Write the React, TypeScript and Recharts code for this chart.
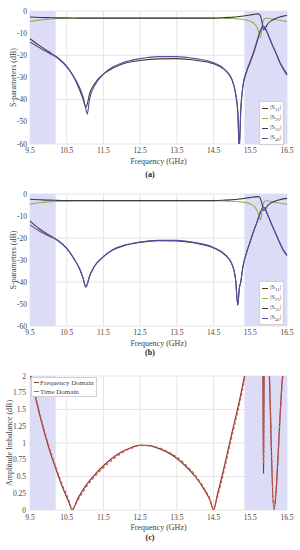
import { LineChart, Line, XAxis, YAxis, CartesianGrid, ReferenceArea, Legend } from 'recharts';

const FONT = "'Liberation Serif', 'DejaVu Serif', serif";

// frequency points (GHz) for plots (a) and (b)
const freqS = [
  9.5, 9.75, 10.0, 10.25, 10.5, 10.7, 10.85, 10.95, 11.02, 11.06, 11.12, 11.25, 11.5, 11.75,
  12.0, 12.5, 13.0, 13.5, 14.0, 14.5, 14.8, 15.0, 15.1, 15.16, 15.2, 15.24, 15.3, 15.4, 15.5,
  15.6, 15.7, 15.75, 15.78, 15.82, 15.86, 15.9, 15.95, 16.0, 16.1, 16.2, 16.3, 16.4, 16.5,
];

// (a)
const s11A = [
  -12.5, -15.5, -18.3, -21, -25, -30, -35.5, -40, -43.5, -42, -37.5, -33, -28.5, -25.8,
  -24, -22.3, -21.6, -21.5, -22.2, -23.8, -26.5, -31, -37.5, -46, -62, -45, -34, -27.5, -23,
  -18.5, -13, -10.5, -9, -7.6, -7, -7.6, -9.3, -11.3, -15.3, -19, -23, -26, -28.5,
];
const s21A = [
  -4.7, -4.1, -3.7, -3.4, -3.3, -3.25, -3.2, -3.2, -3.2, -3.2, -3.2, -3.2, -3.2, -3.2,
  -3.2, -3.2, -3.2, -3.2, -3.2, -3.2, -3.3, -3.4, -3.5, -3.6, -3.6, -3.7, -3.8, -4.1, -4.6,
  -5.6, -8, -10.8, -11.8, -7, -4.2, -3.4, -3.3, -3.4, -3.6, -3.9, -4.2, -4.5, -4.7,
];
const s31A = [
  -2.7, -2.9, -3.0, -3.1, -3.1, -3.15, -3.2, -3.2, -3.2, -3.2, -3.2, -3.2, -3.2, -3.2,
  -3.2, -3.2, -3.2, -3.2, -3.2, -3.2, -3.0, -2.8, -2.7, -2.6, -2.5, -2.4, -2.3, -2.0, -1.8,
  -1.5, -1.3, -1.5, -2.3, -5, -8.5, -8, -6.5, -5.3, -4.2, -3.3, -2.7, -2.3, -2.0,
];
const s41A = [
  -14, -16.5, -18.8, -21.2, -25.2, -29.8, -34.5, -39, -44, -46.5, -40, -34, -28.5, -25.3,
  -23.5, -21.5, -20.6, -20.6, -21.5, -23.3, -26.3, -30.8, -37, -45, -62, -45, -33.5, -27, -22.5,
  -18, -12.5, -10, -8.6, -7.3, -6.8, -7.5, -9.2, -11.2, -15.2, -19, -23, -26.3, -29,
];

// (b)
const s11B = [
  -12.3, -15.8, -18.5, -21, -24.7, -29.5, -34, -38.5, -42.3, -41, -37.5, -33, -28.5, -25.5,
  -23.8, -22, -21.2, -21.3, -22.3, -24.5, -27.5, -32, -39, -50.5, -43, -40, -33, -26.5, -21.5,
  -16.5, -12, -9.5, -8.2, -6.8, -6, -6.5, -8.5, -10.5, -14.5, -18.3, -22, -25.5, -27.8,
];
const s21B = [
  -4.5, -4.0, -3.6, -3.3, -3.2, -3.1, -3.1, -3.1, -3.1, -3.1, -3.1, -3.1, -3.1, -3.1,
  -3.1, -3.1, -3.1, -3.1, -3.1, -3.1, -3.2, -3.3, -3.4, -3.5, -3.5, -3.6, -3.7, -4.0, -4.5,
  -5.5, -8, -10.5, -11.8, -7.5, -4.2, -3.2, -3.1, -3.2, -3.5, -3.8, -4.1, -4.4, -4.6,
];
const s31B = [
  -2.4, -2.6, -2.8, -2.9, -3.0, -3.0, -3.0, -3.0, -3.0, -3.0, -3.0, -3.0, -3.0, -3.0,
  -3.0, -3.0, -3.0, -3.0, -3.0, -3.0, -2.8, -2.6, -2.5, -2.4, -2.3, -2.2, -2.1, -1.8, -1.6,
  -1.4, -1.2, -1.4, -2.2, -4.5, -7.5, -7.2, -5.8, -4.8, -3.8, -3.1, -2.6, -2.2, -2.0,
];
const s41B = [
  -14, -16.8, -19, -21, -24.7, -29.5, -34, -38.5, -42.3, -41, -37.5, -33, -28.5, -25.3,
  -23.6, -21.8, -21, -21.1, -22.1, -24.3, -27.3, -31.8, -38.8, -50.5, -43, -40, -33, -26.5, -21.5,
  -16.5, -12, -9.5, -8.2, -6.8, -6, -6.5, -8.5, -10.5, -14.5, -18.3, -22, -25.7, -28,
];

// (c) amplitude imbalance
const freqC = [
  9.5, 9.75, 10.0, 10.2, 10.4, 10.55, 10.65, 10.8, 11.0, 11.25, 11.5, 11.75, 12.0, 12.25,
  12.5, 12.75, 13.0, 13.25, 13.5, 13.75, 14.0, 14.25, 14.4, 14.5, 14.6, 14.75, 15.0, 15.2,
  15.34, 15.5, 15.7, 15.84, 15.86, 15.88, 15.95, 16.02, 16.14, 16.38, 16.5,
];
const freqDomain = [
  2.05, 1.45, 0.95, 0.62, 0.32, 0.13, 0.0, 0.17, 0.35, 0.52, 0.66, 0.78, 0.87, 0.93,
  0.97, 0.96, 0.92, 0.86, 0.77, 0.65, 0.5, 0.3, 0.15, 0.0, 0.22, 0.55, 1.15, 1.62,
  2.0, 2.6, 3.2, 2.4, 0.55, 2.4, 3.0, 2.0, 0.0, 2.0, 2.5,
];
const timeDomain = [
  2.08, 1.48, 0.98, 0.65, 0.35, 0.16, 0.02, 0.14, 0.32, 0.49, 0.63, 0.75, 0.85, 0.92,
  0.96, 0.96, 0.93, 0.87, 0.79, 0.67, 0.52, 0.32, 0.17, 0.02, 0.18, 0.5, 1.1, 1.57,
  1.95, 2.6, 3.2, 2.5, 0.7, 2.5, 3.0, 2.05, 0.05, 1.95, 2.45,
];

const xTicks = [9.5, 10.5, 11.5, 12.5, 13.5, 14.5, 15.5, 16.5];
const dbTicks = [0, -10, -20, -30, -40, -50, -60];
const imbTicks = [0, 0.25, 0.5, 0.75, 1, 1.25, 1.5, 1.75, 2];
const sNames = ['11', '21', '31', '41'];
const sColors = ['#5a2f2c', '#8fb24a', '#343d48', '#4c52a8'];

const shade = '#dcdcf6';
const gridColor = '#e6e6e6';
const tickStyle = { fontSize: 7.5, fill: '#444', fontFamily: FONT };
const titleStyle = { fontSize: 8, fill: '#444', fontFamily: FONT, textAnchor: 'middle' as const };

function SLegend() {
  return (
    <div style={{ background: '#fff', border: '1px solid #d0d0d0', padding: '1px 2px', fontFamily: FONT, fontSize: 6.5, color: '#444' }}>
      {sNames.map((n, i) => (
        <div key={n} style={{ display: 'flex', alignItems: 'center', height: 10 }}>
          <span style={{ display: 'inline-block', width: 6, height: 0, borderTop: `1.3px solid ${sColors[i]}`, marginRight: 2 }} />
          <span>|S<sub style={{ fontSize: 5 }}>{n}</sub>|</span>
        </div>
      ))}
    </div>
  );
}

function CLegend() {
  return (
    <div style={{ background: '#fff', border: '1px solid #d0d0d0', padding: '0 2px', fontFamily: FONT, fontSize: 7, color: '#444' }}>
      <div style={{ display: 'flex', alignItems: 'center', height: 9 }}>
        <span style={{ display: 'inline-block', width: 5, borderTop: '1.3px solid #7b3f32', marginRight: 1 }} />
        <span>Frequency Domain</span>
      </div>
      <div style={{ display: 'flex', alignItems: 'center', height: 9 }}>
        <span style={{ display: 'inline-block', width: 5, borderTop: '1.3px dashed #d9534f', marginRight: 1 }} />
        <span>Time Domain</span>
      </div>
    </div>
  );
}

interface SChartProps {
  s11: number[];
  s21: number[];
  s31: number[];
  s41: number[];
  top: number;
  marginTop: number;
  height: number;
  legendTop: number;
}

function SParamChart({ s11, s21, s31, s41, top, marginTop, height, legendTop }: SChartProps) {
  const data = freqS.map((f, i) => ({ f, s11: s11[i], s21: s21[i], s31: s31[i], s41: s41[i] }));
  return (
    <div style={{ position: 'absolute', left: 0, top }}>
      <LineChart width={300} height={height} data={data} margin={{ top: marginTop, right: 13, bottom: 0, left: 0 }}>
        <ReferenceArea x1={9.5} x2={10.2} fill={shade} fillOpacity={1} stroke="none" />
        <ReferenceArea x1={15.34} x2={16.5} fill={shade} fillOpacity={1} stroke="none" />
        <CartesianGrid stroke={gridColor} />
        <XAxis
          type="number"
          dataKey="f"
          domain={[9.5, 16.5]}
          ticks={xTicks}
          height={24}
          tickLine={false}
          axisLine={false}
          tickSize={3}
          tickMargin={1}
          tick={tickStyle}
          label={{ value: 'Frequency (GHz)', position: 'insideBottom', offset: 4, style: titleStyle }}
        />
        <YAxis
          type="number"
          domain={[-60, 0]}
          ticks={dbTicks}
          allowDataOverflow
          width={30}
          tickLine={false}
          axisLine={false}
          tickSize={2}
          tickMargin={1}
          tick={tickStyle}
          label={{ value: 'S-parameters (dB)', angle: -90, position: 'insideLeft', offset: 13, style: titleStyle }}
        />
        {sNames.map((n, i) => (
          <Line
            key={n}
            type="monotone"
            dataKey={`s${n}`}
            stroke={sColors[i]}
            strokeWidth={1.1}
            dot={false}
            isAnimationActive={false}
          />
        ))}
        <Legend
          layout="horizontal"
          verticalAlign="middle"
          align="center"
          content={<SLegend />}
          wrapperStyle={{ left: 259, top: legendTop, width: 'auto' }}
        />
      </LineChart>
    </div>
  );
}

function ImbalanceChart() {
  const data = freqC.map((f, i) => ({ f, fd: freqDomain[i], td: timeDomain[i] }));
  return (
    <div style={{ position: 'absolute', left: 0, top: 360 }}>
      <LineChart width={300} height={172} data={data} margin={{ top: 16, right: 13, bottom: 0, left: 0 }}>
        <ReferenceArea x1={9.5} x2={10.2} fill={shade} fillOpacity={1} stroke="none" />
        <ReferenceArea x1={15.34} x2={16.5} fill={shade} fillOpacity={1} stroke="none" />
        <CartesianGrid stroke={gridColor} />
        <XAxis
          type="number"
          dataKey="f"
          domain={[9.5, 16.5]}
          ticks={xTicks}
          height={22}
          tickLine={false}
          axisLine={false}
          tickSize={2}
          tickMargin={3}
          tick={tickStyle}
          label={{ value: 'Frequency (GHz)', position: 'insideBottom', offset: 2, style: titleStyle }}
        />
        <YAxis
          type="number"
          domain={[0, 2]}
          ticks={imbTicks}
          allowDataOverflow
          width={30}
          tickLine={false}
          axisLine={false}
          tickSize={2}
          tickMargin={2}
          tick={tickStyle}
          label={{ value: 'Amplitude Imbalance (dB)', angle: -90, position: 'insideLeft', offset: 9, style: titleStyle }}
        />
        <Line type="monotone" dataKey="fd" stroke="#7b3f32" strokeWidth={1.2} dot={false} isAnimationActive={false} />
        <Line
          type="monotone"
          dataKey="td"
          stroke="#d9534f"
          strokeWidth={1.2}
          strokeDasharray="3 2"
          dot={false}
          isAnimationActive={false}
        />
        <Legend
          layout="horizontal"
          verticalAlign="middle"
          align="center"
          content={<CLegend />}
          wrapperStyle={{ left: 31, top: 17, width: 'auto' }}
        />
      </LineChart>
    </div>
  );
}

const captionStyle = {
  position: 'absolute' as const,
  left: 0,
  width: 300,
  textAlign: 'center' as const,
  fontFamily: FONT,
  fontSize: 8,
  lineHeight: '9px',
  fontWeight: 'bold' as const,
  color: '#222',
};

export default function App() {
  return (
    <div style={{ position: 'absolute', left: 0, top: 0, width: 300, height: 550, background: '#fff', overflow: 'hidden' }}>
      <SParamChart s11={s11A} s21={s21A} s31={s31A} s41={s41A} top={0} marginTop={11} height={168} legendTop={101} />
      <div style={{ ...captionStyle, top: 170 }}>(a)</div>
      <SParamChart s11={s11B} s21={s21B} s31={s31B} s41={s41B} top={180} marginTop={14} height={170} legendTop={101} />
      <div style={{ ...captionStyle, top: 348 }}>(b)</div>
      <ImbalanceChart />
      <div style={{ ...captionStyle, top: 533 }}>(c)</div>
    </div>
  );
}
